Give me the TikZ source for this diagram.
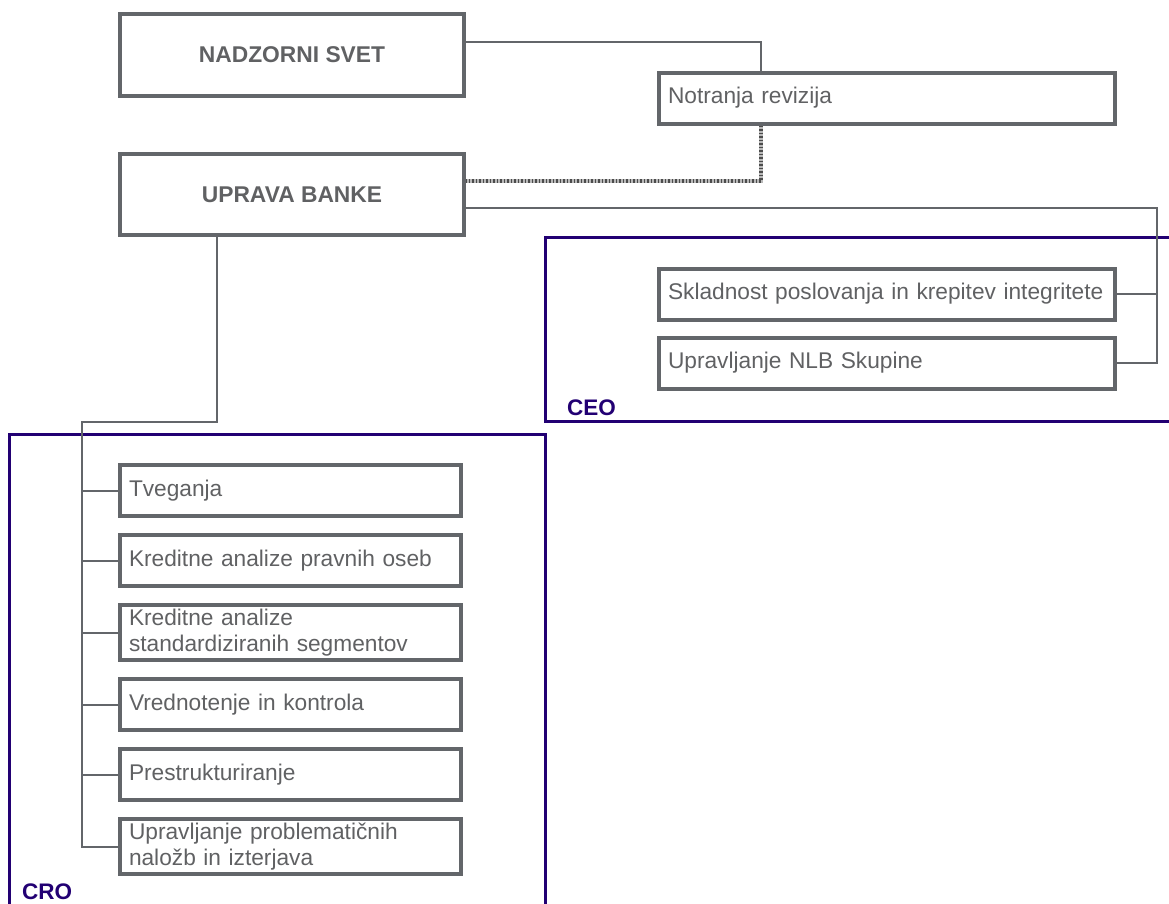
\documentclass[tikz,border=0pt]{standalone}
\usepackage{fontspec}
\setmainfont{Liberation Sans}
\usetikzlibrary{chains,positioning}
\definecolor{boxgrey}{RGB}{99,102,106}
\definecolor{textgrey}{RGB}{96,97,99}
\definecolor{nlbpurple}{RGB}{34,0,115}

\tikzset{
  unit/.style={draw=boxgrey,line width=4pt,text=textgrey,
    font=\fontsize{22.7pt}{26pt}\selectfont,align=left,
    inner xsep=9pt,inner ysep=4pt,minimum height=51pt},
  board/.style={unit,font=\fontsize{22.8pt}{26pt}\selectfont\bfseries,
    align=center,minimum width=344pt,minimum height=82pt},
  link/.style={draw=boxgrey,line width=2pt},
  auditlink/.style={preaction={draw=gray!55,line width=3.5pt},
    draw=black!70,line width=3.5pt,dash pattern=on 1.5pt off 2pt},
  frame/.style={draw=nlbpurple,line width=3pt},
  tag/.style={text=nlbpurple,font=\fontsize{22.5pt}{24pt}\selectfont\bfseries,
    anchor=base west,inner sep=0pt}
}

\begin{document}
\begin{tikzpicture}[x=1pt,y=-1pt]
\useasboundingbox (0,0) rectangle (1169,903);

% frames
\draw[frame] (545,237) rectangle (1190,421);
\draw[frame] (9,434) rectangle (545,930);
\node[tag] (ceotag) at (567,415) {CEO};
\node[tag] (crotag) at (22,899) {CRO};

% top
\node[board] (nadzorni) at (292,55) {NADZORNI SVET};
\node[board,minimum height=81pt] (uprava) at (292,194.5) {UPRAVA BANKE};
\node[unit,text width=438pt] (revizija) at (887,98) {Notranja revizija};

\begin{scope}[shift={(887,294)},start chain=going below,node distance=14pt]
\def\ceolist{1/{Skladnost poslovanja in krepitev integritete},2/{Upravljanje NLB Skupine}}
\foreach \i / \element in \ceolist
  \node [unit,text width=438pt,on chain] (ceo\i) {\element};
\end{scope}

\begin{scope}[shift={(290.5,490.5)},start chain=going below,node distance=15pt]
\def\crolist{1/{Tveganja},2/{Kreditne analize pravnih oseb},
  3/{Kreditne analize\\standardiziranih segmentov},4/{Vrednotenje in kontrola},
  5/{Prestrukturiranje},6/{Upravljanje problematičnih\\naložb in izterjava}}
\foreach \i / \element in \crolist
  \node [unit,text width=323pt,on chain] (cro\i) {\element};
\end{scope}

% connectors
\coordinate (audit) at (761,42);
\coordinate (auditlow) at (761,181);
\coordinate (ceojoin) at (1157,208);
\coordinate (crojoin) at (82,422);

\draw[link] (nadzorni.east |- audit) -- (audit) -- (audit |- revizija.north);
\draw[auditlink] (audit |- revizija.south) -- (auditlow) -- (uprava.east |- auditlow);

\draw[link] (uprava.east |- ceojoin) -- (ceojoin) |- (ceo2.east);
\draw[link] (ceojoin |- ceo1.east) -- (ceo1.east);

\draw[link] ([xshift=99pt]uprava.south west) |- (crojoin) |- (cro6.west);
\foreach \i in {1,...,5}
  \draw[link] (crojoin |- cro\i.west) -- (cro\i.west);

\end{tikzpicture}
\end{document}
